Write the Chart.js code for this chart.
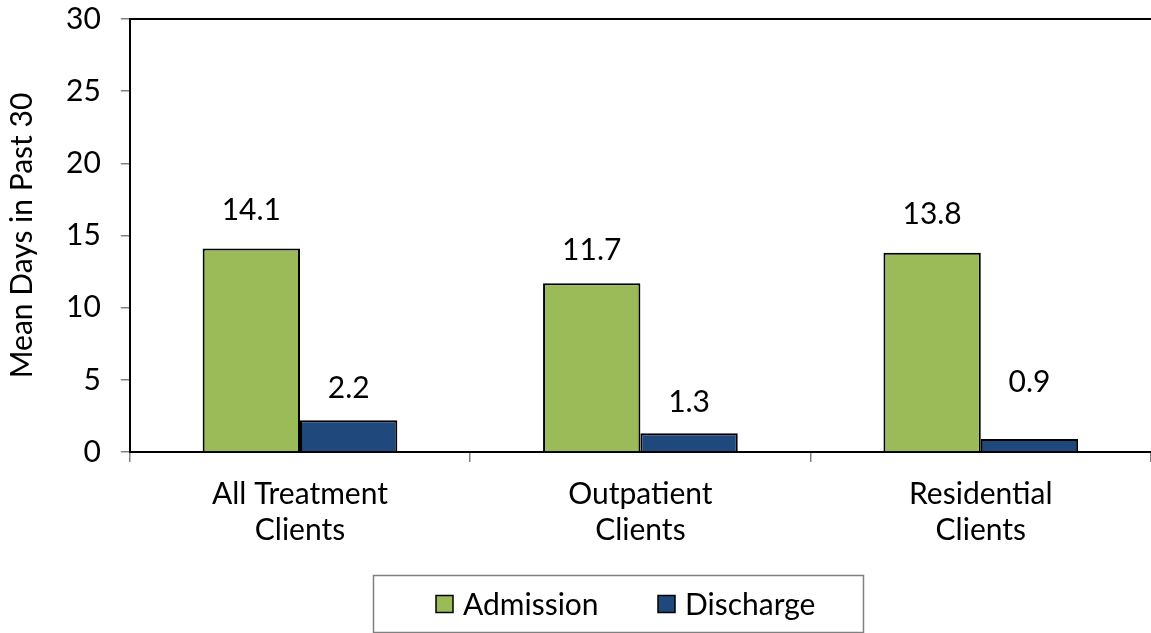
<!DOCTYPE html>
<html><head><meta charset="utf-8">
<script src="https://cdn.jsdelivr.net/npm/chart.js@4"></script>
<style>html,body{margin:0;padding:0;background:#fff;}#wrap{width:1151px;height:633px;}</style>
</head><body><div id="wrap"><canvas id="c" width="1151" height="633"></canvas></div>
<script>
const categories = [["All Treatment","Clients"],["Outpatient","Clients"],["Residential","Clients"]];
const admission = [14.1, 11.7, 13.8];
const discharge = [2.2, 1.3, 0.9];
const yTicks = [0,5,10,15,20,25,30];
const seriesNames = ["Admission","Discharge"];
const labelLift = [[38,33,38],[32,31,57]];

const FONT = "Lato, 'Open Sans', sans-serif";
const FS = 30;

const valueLabels = {
  id:'valueLabels',
  afterDatasetsDraw(chart){
    const ctx = chart.ctx;
    ctx.save();
    ctx.font = FS+'px '+FONT;
    ctx.fillStyle = '#000';
    ctx.textAlign='center'; ctx.textBaseline='middle';
    chart.data.datasets.forEach((ds,di)=>{
      const meta = chart.getDatasetMeta(di);
      meta.data.forEach((bar,i)=>{
        const y = chart.scales.y.getPixelForValue(ds.data[i]) - labelLift[di][i];
        ctx.fillText(ds.data[i].toFixed(1), bar.x, y);
      });
    });
    ctx.restore();
  }
};

const frame = {
  id:'frame',
  afterDraw(chart){
    const ctx = chart.ctx, a = chart.chartArea;
    ctx.save();
    ctx.strokeStyle='#000'; ctx.lineWidth=2;
    ctx.beginPath(); ctx.moveTo(a.left, a.top); ctx.lineTo(a.right, a.top); ctx.stroke();
    // custom legend
    const lx=373, ly=575, lw=490, lh=57;
    ctx.strokeStyle='#808080'; ctx.lineWidth=1.5;
    ctx.strokeRect(lx+0.5, ly+0.5, lw, lh);
    ctx.font = FS+'px '+FONT; ctx.textBaseline='middle'; ctx.textAlign='left';
    const xs=[436,658]; const cy=604;
    chart.data.datasets.forEach((ds,di)=>{
      ctx.fillStyle=ds.backgroundColor; ctx.fillRect(xs[di], cy-8.5, 17, 17);
      ctx.strokeStyle='#000'; ctx.lineWidth=1.5; ctx.strokeRect(xs[di], cy-8.5, 17, 17);
      ctx.fillStyle='#000'; ctx.fillText(ds.label, xs[di]+27, cy+1);
    });
    ctx.restore();
  }
};

new Chart(document.getElementById('c'), {
  type:'bar',
  data:{
    labels: categories,
    datasets:[
      {label:seriesNames[0], data:admission, backgroundColor:'#9BBB59', borderColor:'#000', borderWidth:2, categoryPercentage:0.572, barPercentage:1},
      {label:seriesNames[1], data:discharge, backgroundColor:'#1F497D', borderColor:'#000', borderWidth:2, categoryPercentage:0.572, barPercentage:1}
    ]
  },
  options:{
    responsive:false, animation:false,
    layout:{padding:{top:0,right:-2,bottom:71,left:4}},
    plugins:{legend:{display:false}, tooltip:{enabled:false}},
    scales:{
      x:{
        grid:{offset:true, drawOnChartArea:false, tickLength:10, color:'#808080', lineWidth:1.5},
        border:{color:'#000', width:2},
        ticks:{color:'#000', font:{family:FONT, size:FS, lineHeight:1.2}, padding:14, maxRotation:0}
      },
      y:{
        min:0, max:30,
        afterBuildTicks(s){ s.ticks = yTicks.map(v=>({value:v})); },
        afterFit(s){ s.paddingTop = 19; s.paddingBottom = 18; },
        grid:{drawOnChartArea:false, tickLength:9, color:'#808080', lineWidth:1.5},
        border:{color:'#000', width:2},
        ticks:{color:'#000', font:{family:FONT, size:FS}, padding:20},
        title:{display:true, text:'Mean Days in Past 30', color:'#000', font:{family:FONT, size:FS}, padding:{top:0,bottom:6}}
      }
    }
  },
  plugins:[valueLabels, frame]
});
</script></body></html>
